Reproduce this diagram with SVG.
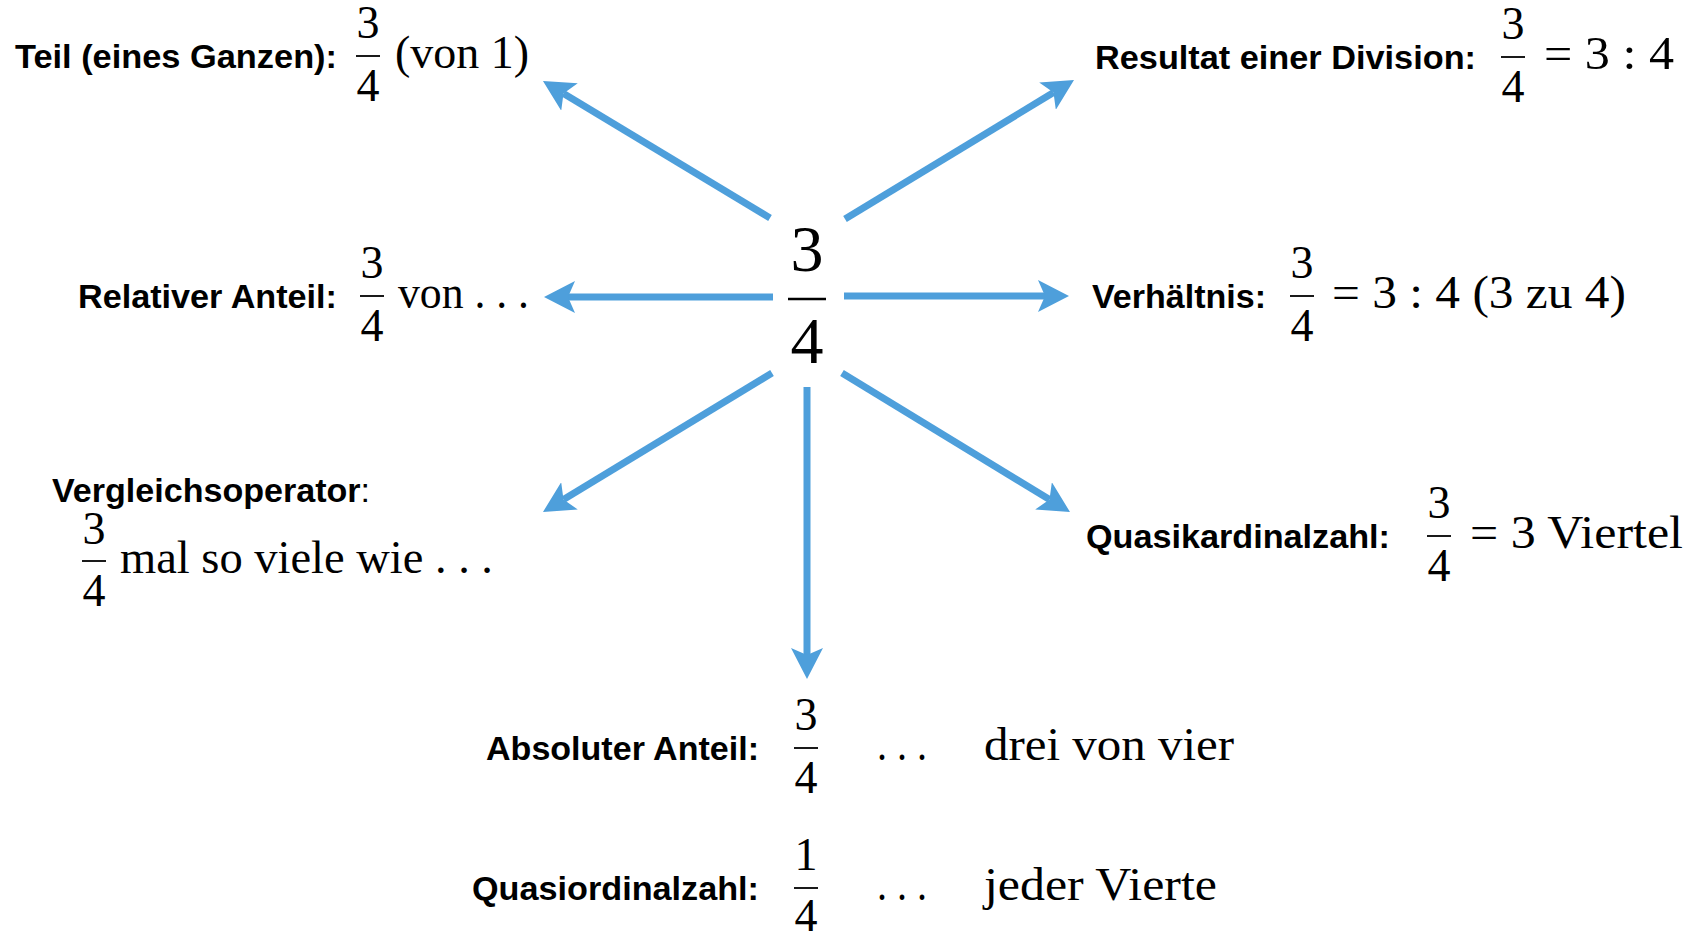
<svg xmlns="http://www.w3.org/2000/svg" width="1707" height="934" viewBox="0 0 1707 934">
  <style>
    .lbl { font-family: "Liberation Sans", Arial, Helvetica, sans-serif; font-weight: bold; font-size: 34px; fill: #000; }
    .lbl .reg { font-weight: normal; }
    .m { font-family: "Liberation Serif", "Times New Roman", serif; font-size: 46px; fill: #000; }
    .mc { text-anchor: middle; }
    .big { font-family: "Liberation Serif", "Times New Roman", serif; font-size: 66px; fill: #000; text-anchor: middle; }
    .bar { stroke: #000; stroke-width: 1.8; }
    .bigbar { stroke: #000; stroke-width: 2.4; }
    .arrow { stroke: #4e9fdb; stroke-width: 7; fill: none; marker-end: url(#head); }
  </style>
  <defs>
    <marker id="head" markerUnits="userSpaceOnUse" viewBox="0 0 32 32" markerWidth="32" markerHeight="32" refX="7" refY="16" orient="auto">
      <path d="M0,0 L31,16 L0,32 L7,16 Z" fill="#4e9fdb"/>
    </marker>
  </defs>

  <rect width="1707" height="934" fill="#fff"/>

  <!-- centre fraction -->
  <g id="center">
    <text class="big" x="807" y="271">3</text>
    <line class="bigbar" x1="788" y1="299" x2="826" y2="299"/>
    <text class="big" x="807" y="363">4</text>
  </g>

  <!-- connectors -->
  <g id="connectors">
    <line class="arrow" x1="770" y1="218" x2="563.5" y2="93.4"/>
    <line class="arrow" x1="845" y1="219" x2="1053.5" y2="92.5"/>
    <line class="arrow" x1="773" y1="297" x2="568" y2="297"/>
    <line class="arrow" x1="844" y1="296" x2="1045" y2="296"/>
    <line class="arrow" x1="772" y1="373" x2="563.5" y2="499.5"/>
    <line class="arrow" x1="842" y1="373" x2="1049.5" y2="499.5"/>
    <line class="arrow" x1="807" y1="387" x2="807" y2="655"/>
  </g>

  <!-- Teil eines Ganzen -->
  <g id="teil">
    <text class="lbl" x="15" y="68" textLength="322" lengthAdjust="spacingAndGlyphs">Teil (eines Ganzen):</text>
    <text class="m mc" x="368" y="38">3</text>
    <line class="bar" x1="356" y1="56" x2="380" y2="56"/>
    <text class="m mc" x="368" y="101">4</text>
    <text class="m" x="395" y="68" textLength="134" lengthAdjust="spacingAndGlyphs">(von 1)</text>
  </g>

  <!-- Resultat einer Division -->
  <g id="division">
    <text class="lbl" x="1095" y="69" textLength="381" lengthAdjust="spacingAndGlyphs">Resultat einer Division:</text>
    <text class="m mc" x="1513" y="39">3</text>
    <line class="bar" x1="1501" y1="57" x2="1525" y2="57"/>
    <text class="m mc" x="1513" y="102">4</text>
    <text class="m" x="1544" y="69" textLength="130" lengthAdjust="spacingAndGlyphs">= 3 : 4</text>
  </g>

  <!-- Relativer Anteil -->
  <g id="relativ">
    <text class="lbl" x="78" y="308" textLength="259" lengthAdjust="spacingAndGlyphs">Relativer Anteil:</text>
    <text class="m mc" x="372" y="278">3</text>
    <line class="bar" x1="360" y1="296" x2="384" y2="296"/>
    <text class="m mc" x="372" y="341">4</text>
    <text class="m" x="398" y="308" textLength="131" lengthAdjust="spacingAndGlyphs">von . . .</text>
  </g>

  <!-- Verhaeltnis -->
  <g id="verhaeltnis">
    <text class="lbl" x="1092" y="308" textLength="174" lengthAdjust="spacingAndGlyphs">Verhältnis:</text>
    <text class="m mc" x="1302" y="278">3</text>
    <line class="bar" x1="1290" y1="296" x2="1314" y2="296"/>
    <text class="m mc" x="1302" y="341">4</text>
    <text class="m" x="1332" y="308" textLength="294" lengthAdjust="spacingAndGlyphs">= 3 : 4 (3 zu 4)</text>
  </g>

  <!-- Vergleichsoperator -->
  <g id="vergleich">
    <text class="lbl" x="52" y="502" textLength="318" lengthAdjust="spacingAndGlyphs">Vergleichsoperator<tspan class="reg">:</tspan></text>
    <text class="m mc" x="94" y="544">3</text>
    <line class="bar" x1="82" y1="561" x2="106" y2="561"/>
    <text class="m mc" x="94" y="606">4</text>
    <text class="m" x="120" y="573" textLength="373" lengthAdjust="spacingAndGlyphs">mal so viele wie . . .</text>
  </g>

  <!-- Quasikardinalzahl -->
  <g id="quasikardinal">
    <text class="lbl" x="1086" y="548" textLength="304" lengthAdjust="spacingAndGlyphs">Quasikardinalzahl:</text>
    <text class="m mc" x="1439" y="518">3</text>
    <line class="bar" x1="1427" y1="536" x2="1451" y2="536"/>
    <text class="m mc" x="1439" y="581">4</text>
    <text class="m" x="1470" y="548" textLength="213" lengthAdjust="spacingAndGlyphs">= 3 Viertel</text>
  </g>

  <!-- Absoluter Anteil -->
  <g id="absolut">
    <text class="lbl" x="486" y="760" textLength="273" lengthAdjust="spacingAndGlyphs">Absoluter Anteil:</text>
    <text class="m mc" x="806" y="730">3</text>
    <line class="bar" x1="794" y1="748" x2="818" y2="748"/>
    <text class="m mc" x="806" y="793">4</text>
    <text class="m" x="877" y="760" textLength="50" lengthAdjust="spacingAndGlyphs">. . .</text>
    <text class="m" x="984" y="760" textLength="250" lengthAdjust="spacingAndGlyphs">drei von vier</text>
  </g>

  <!-- Quasiordinalzahl -->
  <g id="quasiordinal">
    <text class="lbl" x="472" y="900" textLength="287" lengthAdjust="spacingAndGlyphs">Quasiordinalzahl:</text>
    <text class="m mc" x="806" y="870">1</text>
    <line class="bar" x1="794" y1="888" x2="818" y2="888"/>
    <text class="m mc" x="806" y="931">4</text>
    <text class="m" x="877" y="900" textLength="50" lengthAdjust="spacingAndGlyphs">. . .</text>
    <text class="m" x="984" y="900" textLength="233" lengthAdjust="spacingAndGlyphs">jeder Vierte</text>
  </g>
</svg>
